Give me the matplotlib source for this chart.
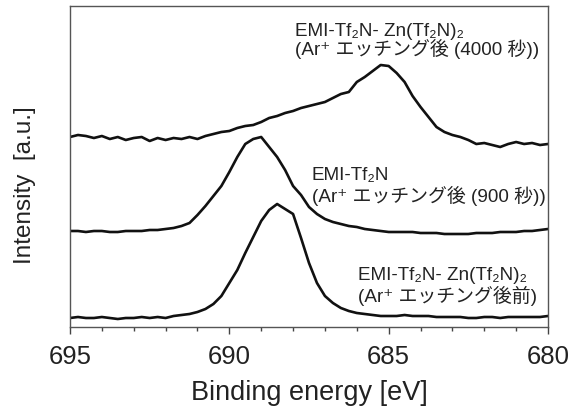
import numpy as np
import matplotlib
matplotlib.use("Agg")
import matplotlib.pyplot as plt

# binding energy grid (eV), read every 0.25 eV
energy = [695.0 - 0.25 * i for i in range(61)]

# before etching (bottom trace)
before = [9, 10, 9, 9, 10, 9, 8, 9, 9, 10, 9, 10, 9, 11, 12, 13,
          15, 18, 23, 31, 44, 57, 74, 90, 106, 117, 123, 118, 113, 89, 64, 44,
          31, 24, 19, 16, 14, 13, 12, 11, 11, 11, 12, 11, 11, 11, 10, 10,
          10, 10, 9, 9, 10, 10, 9, 10, 10, 10, 10, 10, 11]

# EMI-Tf2N after 900 s (middle trace)
etch900 = [96, 96, 95, 96, 96, 95, 95, 96, 96, 96, 97, 97, 98, 99, 101, 104,
           112, 121, 131, 141, 155, 170, 183, 188, 190, 180, 170, 157, 141, 132, 120, 113,
           108, 105, 103, 101, 100, 98, 97, 96, 95, 95, 95, 95, 94, 94, 94, 93,
           93, 93, 93, 94, 94, 94, 95, 95, 95, 96, 96, 97, 98]

# after 4000 s (top trace)
etch4000 = [190, 192, 191, 189, 191, 188, 190, 187, 189, 190, 186, 189, 187, 189, 188, 190,
            188, 191, 193, 195, 196, 199, 201, 202, 205, 209, 211, 214, 216, 219, 221, 223,
            225, 229, 233, 235, 245, 250, 256, 262, 261, 254, 245, 231, 220, 210, 200, 195,
            192, 190, 187, 183, 184, 182, 180, 183, 185, 183, 184, 182, 183]

xticks = [695, 690, 685, 680]

txt_font = ['Liberation Sans', 'Noto Sans CJK JP', 'DejaVu Sans']
plt.rcParams['font.family'] = txt_font

fig = plt.figure(figsize=(5.71, 4.10), dpi=100)
ax = fig.add_axes([70 / 571, 82 / 410, 478 / 571, 321 / 410])

for y in (before, etch900, etch4000):
    ax.plot(energy, y, color='#111111', lw=1.9)

ax.set_xlim(695, 680)
ax.set_ylim(0, 321)
ax.set_xticks(xticks)
ax.set_xticks(np.arange(680, 696, 1), minor=True)
ax.set_yticks([])
ax.tick_params(axis='x', which='major', direction='out', length=5, width=1,
               colors='#444444', labelcolor='#222222', labelsize=18.5, pad=7)
ax.tick_params(axis='x', which='minor', direction='out', length=3, width=1, colors='#444444')
for s in ax.spines.values():
    s.set_color('#555555')
    s.set_linewidth(1.0)

# axis titles placed in figure pixels
fig.text(309 / 571, 10 / 410, 'Binding energy [eV]', fontsize=19.5, color='#222222',
         ha='center', va='baseline')
fig.text(25 / 571, (410 - 185) / 410, 'Intensity  [a.u.]', fontsize=17.5, color='#222222',
         rotation=90, ha='center', va='center')

def label(x, y1, y2, l1, l2):
    fig.text(x / 571, (410 - y1) / 410, l1, fontsize=13.6, color='#222222', family=txt_font, va='baseline')
    fig.text(x / 571, (410 - y2) / 410, l2, fontsize=13.6, color='#222222', family=txt_font, va='baseline')

label(295, 36, 55, 'EMI-Tf\u2082N- Zn(Tf\u2082N)\u2082', '(Ar\u207a エッチング後 (4000 秒))')
label(312, 180, 202, 'EMI-Tf\u2082N', '(Ar\u207a エッチング後 (900 秒))')
label(358, 280, 302, 'EMI-Tf\u2082N- Zn(Tf\u2082N)\u2082', '(Ar\u207a エッチング後前)')

fig.savefig('out.png', dpi=100)
